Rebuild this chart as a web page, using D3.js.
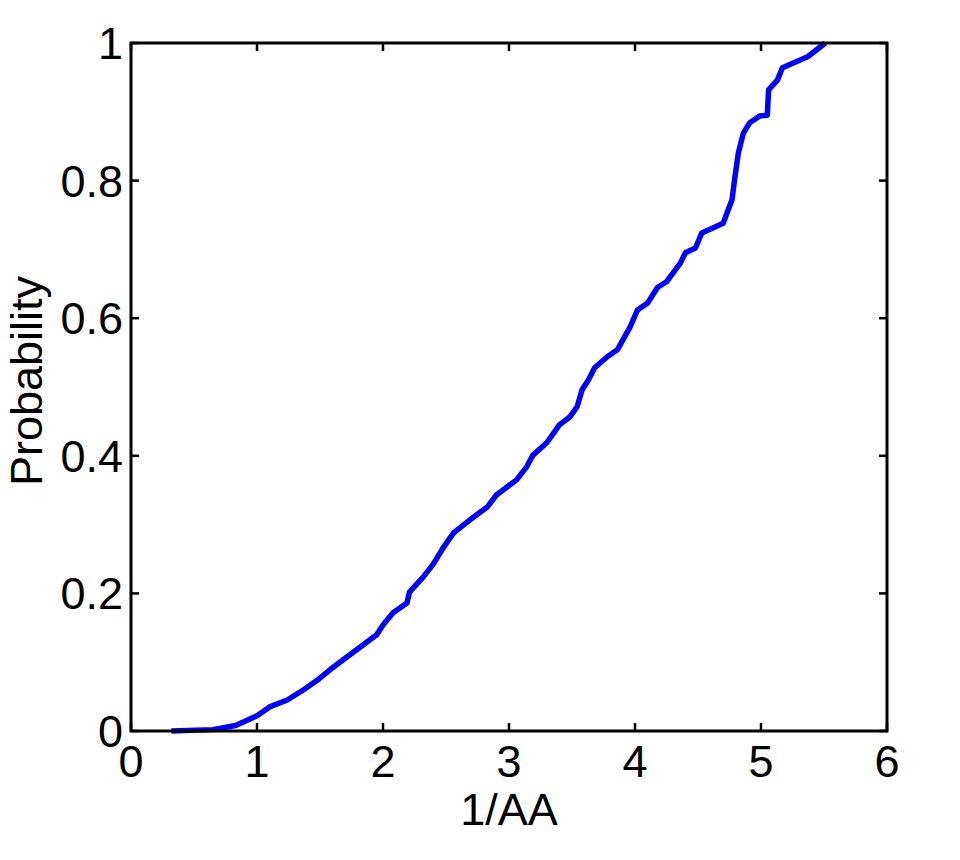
<!DOCTYPE html>
<html>
<head>
<meta charset="utf-8">
<script src="https://cdn.jsdelivr.net/npm/d3@7"></script>
<style>
  html, body { margin: 0; padding: 0; background: #fff; }
  svg { display: block; font-family: Arial, "Liberation Sans", sans-serif; }
</style>
</head>
<body>
<svg id="chart" width="960" height="860"></svg>
<script>
const xValues = [0.32,0.65,0.83,1.0,1.10,1.24,1.37,1.48,1.60,1.79,1.95,2.00,2.08,2.19,2.21,2.32,2.40,2.48,2.56,2.69,2.83,2.90,3.06,3.14,3.19,3.30,3.40,3.48,3.54,3.58,3.63,3.68,3.78,3.86,3.96,4.02,4.10,4.18,4.25,4.36,4.40,4.48,4.53,4.70,4.73,4.77,4.79,4.82,4.86,4.91,4.99,5.05,5.06,5.13,5.17,5.37,5.51];
const yValues = [0,0.002,0.008,0.022,0.035,0.045,0.060,0.074,0.092,0.118,0.140,0.154,0.172,0.186,0.202,0.224,0.243,0.267,0.288,0.307,0.326,0.343,0.365,0.384,0.401,0.419,0.445,0.456,0.471,0.496,0.510,0.528,0.544,0.554,0.587,0.612,0.622,0.645,0.653,0.680,0.695,0.702,0.724,0.738,0.753,0.772,0.801,0.840,0.869,0.884,0.894,0.895,0.932,0.946,0.964,0.980,1.0];
const xTicks = [0,1,2,3,4,5,6];
const yTicks = [0,0.2,0.4,0.6,0.8,1];
const yTickLabels = ["0","0.2","0.4","0.6","0.8","1"];
const xLabel = "1/AA";
const yLabel = "Probability";

(function () {
const svg = d3.select("#chart");
const pl = 131, pr = 887, pt = 43, pb = 731;
const x = d3.scaleLinear().domain([0, 6]).range([pl, pr]);
const y = d3.scaleLinear().domain([0, 1]).range([pb, pt]);
const fontSize = 45;
const tickLen = 8;

const g = svg.append("g");
xTicks.forEach(t => {
  g.append("line").attr("x1", x(t)).attr("x2", x(t)).attr("y1", pb).attr("y2", pb - tickLen)
    .attr("stroke", "#000").attr("stroke-width", 2.5);
  g.append("line").attr("x1", x(t)).attr("x2", x(t)).attr("y1", pt).attr("y2", pt + tickLen)
    .attr("stroke", "#000").attr("stroke-width", 2.5);
  g.append("text").attr("x", x(t)).attr("y", pb + 46).attr("text-anchor", "middle")
    .attr("font-size", fontSize).attr("fill", "#000").text(t);
});
yTicks.forEach((t, i) => {
  g.append("line").attr("x1", pl).attr("x2", pl + tickLen).attr("y1", y(t)).attr("y2", y(t))
    .attr("stroke", "#000").attr("stroke-width", 2.5);
  g.append("line").attr("x1", pr).attr("x2", pr - tickLen).attr("y1", y(t)).attr("y2", y(t))
    .attr("stroke", "#000").attr("stroke-width", 2.5);
  g.append("text").attr("x", pl - 8).attr("y", y(t) + 16).attr("text-anchor", "end")
    .attr("font-size", fontSize).attr("fill", "#000").text(yTickLabels[i]);
});

const pts = xValues.map((v, i) => [v, yValues[i]]);
svg.append("path").datum(pts)
  .attr("d", d3.line().x(d => x(d[0])).y(d => y(d[1])))
  .attr("fill", "none").attr("stroke", "#0000ff").attr("stroke-width", 5.5)
  .attr("stroke-linejoin", "round").attr("stroke-linecap", "butt");

svg.append("rect").attr("x", pl).attr("y", pt).attr("width", pr - pl).attr("height", pb - pt)
  .attr("fill", "none").attr("stroke", "#000").attr("stroke-width", 3);

svg.append("text").attr("x", (pl + pr) / 2).attr("y", 825).attr("text-anchor", "middle")
  .attr("font-size", fontSize).attr("fill", "#000").text(xLabel);
svg.append("text").attr("transform", `translate(42,${(pt + pb) / 2 - 6}) rotate(-90)`)
  .attr("text-anchor", "middle").attr("font-size", fontSize).attr("fill", "#000").text(yLabel);
})();
</script>
</body>
</html>
